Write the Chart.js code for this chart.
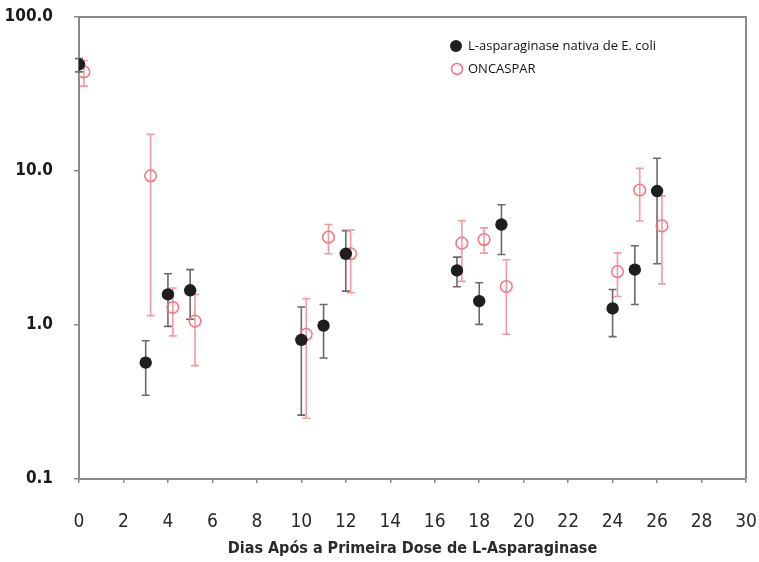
<!DOCTYPE html>
<html>
<head>
<meta charset="utf-8">
<script src="https://cdn.jsdelivr.net/npm/chart.js@4.4.0/dist/chart.umd.min.js"></script>
<style>
	html, body { margin: 0; padding: 0; background: #fff; }
	#wrap { width: 759px; height: 562px; }
</style>
</head>
<body>
<div id="wrap"><canvas id="myChart" width="759" height="562"></canvas></div>
<script>
// Days after first dose
const days = [0, 3, 4, 5, 10, 11, 12, 17, 18, 19, 24, 25, 26];

// L-asparaginase nativa de E. coli
const nativaMean = [49.2, 0.57, 1.58, 1.68, 0.80, 0.99, 2.90, 2.26, 1.43, 4.49, 1.28, 2.29, 7.41];
const nativaLow = [44.0, 0.35, 0.98, 1.09, 0.26, 0.61, 1.66, 1.77, 1.01, 2.87, 0.84, 1.36, 2.50];
const nativaHigh = [53.7, 0.79, 2.15, 2.29, 1.31, 1.36, 4.10, 2.76, 1.88, 6.04, 1.70, 3.27, 12.1];

// ONCASPAR
const oncasparMean = [44.0, 9.31, 1.30, 1.06, 0.87, 3.72, 2.90, 3.40, 3.59, 1.78, 2.22, 7.52, 4.40];
const oncasparLow = [35.6, 1.15, 0.85, 0.545, 0.248, 2.90, 1.62, 1.92, 2.93, 0.87, 1.53, 4.74, 1.85];
const oncasparHigh = [52.2, 17.3, 1.74, 1.58, 1.48, 4.49, 4.13, 4.76, 4.27, 2.65, 2.94, 10.4, 6.89];

const yTicks = [0.1, 1, 10, 100];
const seriesLabels = ["L-asparaginase nativa de E. coli", "ONCASPAR"];

const shift = 0.22; // ONCASPAR drawn a bit to the right
const blackColor = "#1e1e1e";
const redColor = "#f2737e";
const narrowFont = "'Liberation Sans Narrow', 'DejaVu Sans Condensed', Arial, sans-serif";

function makePoints(xs, ys, dx) {
	return xs.map((x, i) => ({ x: x + dx, y: ys[i] }));
}

// draw error bars with the chart scales
const errorBars = {
	id: "errorBars",
	beforeDatasetsDraw(chart) {
		const ctx = chart.ctx;
		const xs = chart.scales.x;
		const ys = chart.scales.y;
		const sets = [
			{ lo: nativaLow, hi: nativaHigh, dx: 0, color: "#6a6a6a" },
			{ lo: oncasparLow, hi: oncasparHigh, dx: shift, color: "#f59aa2" },
		];
		ctx.save();
		sets.forEach((s) => {
			ctx.strokeStyle = s.color;
			ctx.lineWidth = 1.6;
			days.forEach((d, i) => {
				const px = xs.getPixelForValue(d + s.dx);
				const y1 = ys.getPixelForValue(s.lo[i]);
				const y2 = ys.getPixelForValue(s.hi[i]);
				ctx.beginPath();
				ctx.moveTo(px, y1);
				ctx.lineTo(px, y2);
				ctx.moveTo(px - 4, y1);
				ctx.lineTo(px + 4, y1);
				ctx.moveTo(px - 4, y2);
				ctx.lineTo(px + 4, y2);
				ctx.stroke();
			});
		});
		ctx.restore();
	},
	afterDraw(chart) {
		const ctx = chart.ctx;
		const a = chart.chartArea;
		ctx.save();
		// frame top and right
		ctx.strokeStyle = "#8a8a8a";
		ctx.lineWidth = 2;
		ctx.beginPath();
		ctx.moveTo(a.left, a.top);
		ctx.lineTo(a.right, a.top);
		ctx.lineTo(a.right, a.bottom);
		ctx.stroke();

		// legend
		const lx = a.left + 377;
		const ly = a.top + 29;
		ctx.fillStyle = blackColor;
		ctx.beginPath();
		ctx.arc(lx, ly, 6, 0, Math.PI * 2);
		ctx.fill();
		ctx.strokeStyle = redColor;
		ctx.lineWidth = 1.5;
		ctx.beginPath();
		ctx.arc(lx + 1, ly + 23, 5.5, 0, Math.PI * 2);
		ctx.stroke();
		ctx.fillStyle = "#111";
		ctx.font = "13px 'Open Sans', sans-serif";
		ctx.textBaseline = "middle";
		ctx.fillText(seriesLabels[0], lx + 12, ly);
		ctx.fillText(seriesLabels[1], lx + 12, ly + 23);
		ctx.restore();
	},
};

var ctx = document.getElementById("myChart").getContext("2d");
var chartCanvas = new Chart(ctx, {
	type: "scatter",
	data: {
		datasets: [
			{
				label: seriesLabels[0],
				data: makePoints(days, nativaMean, 0),
				backgroundColor: blackColor,
				borderColor: blackColor,
				pointRadius: 6.2,
				pointBorderWidth: 0,
			},
			{
				label: seriesLabels[1],
				data: makePoints(days, oncasparMean, shift),
				backgroundColor: "rgba(255,255,255,0)",
				borderColor: redColor,
				pointRadius: 5.8,
				pointBorderWidth: 1.5,
			},
		],
	},
	options: {
		responsive: false,
		animation: false,
		layout: { padding: { top: 17, right: 13, left: 0, bottom: 0 } },
		plugins: {
			legend: { display: false },
			tooltip: { enabled: false },
		},
		scales: {
			x: {
				type: "linear",
				min: 0,
				max: 30,
				afterFit: (scale) => {
					scale.height = 83;
					scale.paddingLeft = 0;
					scale.paddingRight = 0;
				},
				ticks: {
					stepSize: 2,
					padding: 28,
					color: "#2a2a2a",
					font: { family: narrowFont, size: 19 },
				},
				grid: { drawOnChartArea: false, drawTicks: true, tickLength: 4, color: "#8a8a8a", lineWidth: 1.5 },
				border: { display: true, color: "#8a8a8a", width: 2 },
				title: {
					display: true,
					text: "Dias Após a Primeira Dose de L-Asparaginase",
					color: "#2a2a2a",
					font: { family: narrowFont, size: 16, weight: "bold" },
					padding: { top: 0, bottom: 4 },
				},
			},
			y: {
				type: "logarithmic",
				min: 0.1,
				max: 100,
				afterFit: (scale) => {
					scale.width = 79;
					scale.paddingTop = 0;
					scale.paddingBottom = 0;
				},
				afterBuildTicks: (scale) => {
					scale.ticks = yTicks.map((v) => ({ value: v, major: true }));
				},
				ticks: {
					padding: 21,
					color: "#1a1a1a",
					font: { family: narrowFont, size: 17, weight: "bold" },
					callback: (v) => Number(v).toFixed(1),
				},
				grid: { drawOnChartArea: false, drawTicks: true, tickLength: 5, color: "#8a8a8a", lineWidth: 1.5 },
				border: { display: true, color: "#8a8a8a", width: 2 },
			},
		},
	},
	plugins: [errorBars],
});
</script>
</body>
</html>
